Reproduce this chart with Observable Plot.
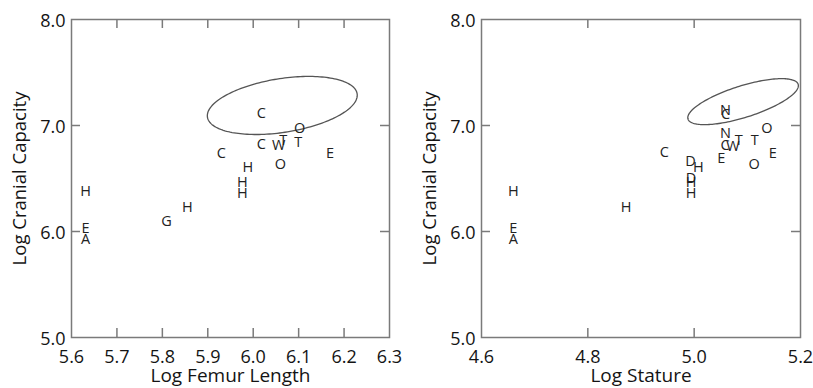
<!DOCTYPE html>
<html>
<head>
<meta charset="utf-8">
<script src="https://cdn.jsdelivr.net/npm/d3@7"></script>
<script src="https://cdn.jsdelivr.net/npm/@observablehq/plot@0.6"></script>
<style>
  html, body { margin: 0; padding: 0; background: #fff; }
  #charts { display: flex; width: 813px; height: 388px; }
  #charts > svg, #charts > figure { flex: none; margin: 0; }
</style>
</head>
<body>
<div id="charts"></div>
<script>
// Axis ticks
const femurTicks = [5.6, 5.7, 5.8, 5.9, 6.0, 6.1, 6.2, 6.3];
const statureTicks = [4.6, 4.8, 5.0, 5.2];
const cranialTicks = [5.0, 6.0, 7.0, 8.0];

// Left panel: log femur length vs log cranial capacity
const femurLetters = ["C", "O", "C", "W", "T", "T", "E", "C", "O", "H", "H", "H", "H", "H", "G", "E", "A"];
const femurX       = [6.018, 6.102, 6.018, 6.056, 6.066, 6.099, 6.169, 5.930, 6.060, 5.988, 5.976, 5.976, 5.631, 5.855, 5.809, 5.631, 5.631];
const femurCranial = [7.113, 6.975, 6.821, 6.811, 6.858, 6.842, 6.733, 6.739, 6.629, 6.607, 6.465, 6.361, 6.374, 6.229, 6.097, 6.025, 5.922];

// Right panel: log stature vs log cranial capacity
const statureLetters = ["N", "C", "N", "C", "W", "T", "T", "O", "E", "E", "O", "C", "D", "H", "D", "H", "H", "H", "H", "E", "A"];
const statureX       = [5.059, 5.059, 5.059, 5.058, 5.073, 5.084, 5.114, 5.137, 5.148, 5.051, 5.113, 4.944, 4.993, 5.008, 4.994, 4.994, 4.994, 4.660, 4.872, 4.660, 4.660];
const statureCranial = [7.142, 7.104, 6.927, 6.811, 6.802, 6.858, 6.858, 6.969, 6.739, 6.686, 6.629, 6.742, 6.663, 6.607, 6.497, 6.465, 6.361, 6.374, 6.229, 6.025, 5.922];

// Reference ellipses: centre, half-extents along x and y, and phase (tilt)
const femurEllipse   = {cx: 6.064, cy: 7.189, ax: 0.165, ay: 0.274, phase: 1.21};
const statureEllipse = {cx: 5.092, cy: 7.225, ax: 0.104, ay: 0.217, phase: 0.80};

const ink = "#141414";
const frameGray = "#7a7a7a";
const font = "Open Sans";

function ellipsePath({cx, cy, ax, ay, phase}) {
  return d3.range(0, 2 * Math.PI, Math.PI / 90).map(t => ({
    x: cx + ax * Math.cos(t),
    y: cy + ay * Math.cos(t - phase)
  }));
}

function panel({width, marginLeft, marginRight, xTicks, xTitle, letters, xs, ys, ellipse}) {
  const marginTop = 19, marginBottom = 51, height = 388;
  const innerW = width - marginLeft - marginRight;
  const innerH = height - marginTop - marginBottom;
  const points = letters.map((t, i) => ({t, x: xs[i], y: ys[i]}));
  const xInner = xTicks.slice(1, -1);
  const yInner = cranialTicks.slice(1, -1);
  const tickLen = 9;
  return Plot.plot({
    width, height, marginLeft, marginRight, marginTop, marginBottom,
    style: {fontFamily: font, fontSize: "18px", color: ink, background: "#fff", overflow: "visible"},
    x: {domain: [xTicks[0], xTicks[xTicks.length - 1]]},
    y: {domain: [5, 8]},
    marks: [
      Plot.frame({stroke: frameGray, strokeWidth: 1.5}),
      // inward ticks on all four sides
      Plot.tickX(xInner, {x: d => d, insetTop: innerH - tickLen, stroke: frameGray, strokeWidth: 1.5}),
      Plot.tickX(xInner, {x: d => d, insetBottom: innerH - tickLen, stroke: frameGray, strokeWidth: 1.5}),
      Plot.tickY(yInner, {y: d => d, insetRight: innerW - tickLen, stroke: frameGray, strokeWidth: 1.5}),
      Plot.tickY(yInner, {y: d => d, insetLeft: innerW - tickLen, stroke: frameGray, strokeWidth: 1.5}),
      Plot.axisX({ticks: xTicks, tickSize: 0, tickPadding: 13, tickFormat: d => d.toFixed(1), label: null, fontSize: 18, fill: ink}),
      Plot.axisY({ticks: cranialTicks, tickSize: 0, tickPadding: 6, tickFormat: d => d.toFixed(1), label: null, fontSize: 18, fill: ink, dy: 2}),
      Plot.text([xTitle], {frameAnchor: "bottom", textAnchor: "middle", lineAnchor: "middle", dy: 38, fontSize: 19, fill: ink}),
      Plot.text(["Log Cranial Capacity"], {frameAnchor: "left", textAnchor: "middle", lineAnchor: "middle", dx: -51, rotate: -90, fontSize: 18.5, fill: ink}),
      Plot.line(ellipsePath(ellipse), {x: "x", y: "y", curve: "linear-closed", stroke: "#555", strokeWidth: 1.3}),
      Plot.text(points, {x: "x", y: "y", text: "t", fontSize: 14.5, fill: "#222"})
    ]
  });
}

const root = document.getElementById("charts");
root.append(panel({
  width: 406, marginLeft: 71, marginRight: 17,
  xTicks: femurTicks, xTitle: "Log Femur Length",
  letters: femurLetters, xs: femurX, ys: femurCranial, ellipse: femurEllipse
}));
root.append(panel({
  width: 407, marginLeft: 75, marginRight: 13,
  xTicks: statureTicks, xTitle: "Log Stature",
  letters: statureLetters, xs: statureX, ys: statureCranial, ellipse: statureEllipse
}));
</script>
</body>
</html>
